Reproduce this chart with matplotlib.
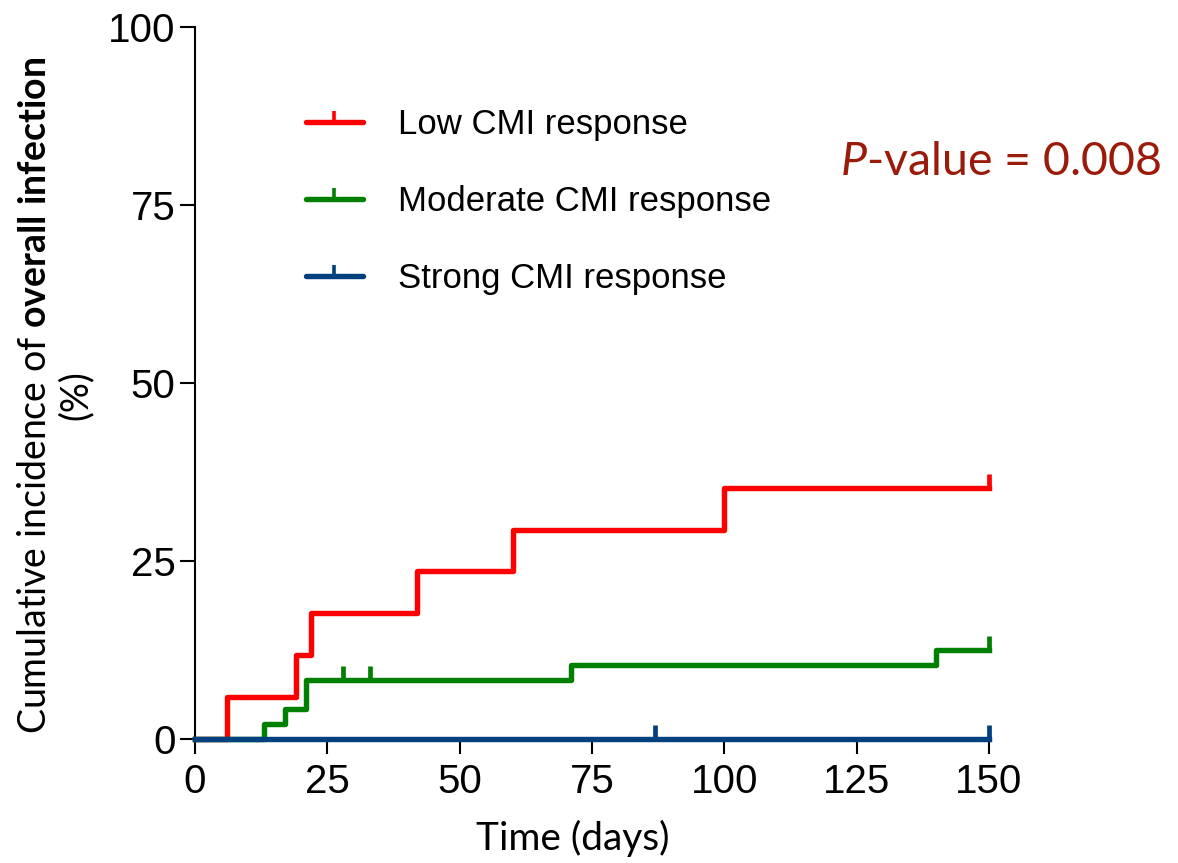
import matplotlib
matplotlib.use("Agg")
import matplotlib.pyplot as plt
from matplotlib.lines import Line2D
from matplotlib.markers import TICKUP

# cumulative incidence (%) step curves, one per CMI group
low_t = [0, 6, 19, 22, 42, 60, 100, 150]
low_y = [0, 5.88, 11.76, 17.65, 23.53, 29.41, 35.29, 35.29]
low_cens_t = [150]
low_cens_y = [35.29]

mod_t = [0, 13, 17, 21, 71, 140, 150]
mod_y = [0, 2.08, 4.17, 8.33, 10.42, 12.5, 12.5]
mod_cens_t = [28, 33, 150]
mod_cens_y = [8.33, 8.33, 12.5]

strong_t = [0, 150]
strong_y = [0, 0]
strong_cens_t = [87, 150]
strong_cens_y = [0, 0]

labels = ["Low CMI response", "Moderate CMI response", "Strong CMI response"]
colors = ["#ff0000", "#008000", "#00407f"]

x_ticks = [0, 25, 50, 75, 100, 125, 150]
y_ticks = [0, 25, 50, 75, 100]

narrow = ["Liberation Sans Narrow", "Liberation Sans", "DejaVu Sans"]
plt.rcParams["mathtext.fontset"] = "custom"
plt.rcParams["mathtext.rm"] = "Lato"
plt.rcParams["mathtext.bf"] = "Lato:bold"
plt.rcParams["mathtext.it"] = "Lato:italic"

fig = plt.figure(figsize=(11.78, 8.63), dpi=100)
ax = fig.add_axes([0.1655, 0.1437, 0.674, 0.825])

series = [
    (low_t, low_y, low_cens_t, low_cens_y),
    (mod_t, mod_y, mod_cens_t, mod_cens_y),
    (strong_t, strong_y, strong_cens_t, strong_cens_y),
]
handles = []
for (t, y, ct, cy), lab, col in zip(series, labels, colors):
    ax.plot(t, y, drawstyle="steps-post", color=col, lw=3.9,
            solid_joinstyle="round", clip_on=False, zorder=3)
    ax.plot(ct, cy, ls="none", marker=TICKUP, ms=10, mew=3.4,
            color=col, clip_on=False, zorder=3)
    handles.append(Line2D([], [], color=col, lw=3.9, marker=TICKUP,
                          ms=8, mew=2.6, solid_capstyle="round"))

ax.set_xlim(0, 150)
ax.set_ylim(0, 100)
ax.set_xticks(x_ticks)
ax.set_yticks(y_ticks)
for s in ["top", "right"]:
    ax.spines[s].set_visible(False)
for s in ["left", "bottom"]:
    ax.spines[s].set_linewidth(1.5)
ax.tick_params(axis="both", length=11, width=1.5, labelsize=29)
ax.tick_params(axis="y", pad=3)
ax.tick_params(axis="x", pad=6)
for lbl in ax.get_xticklabels() + ax.get_yticklabels():
    lbl.set_family(narrow)

leg = ax.legend(handles, labels, loc="upper left",
                bbox_to_anchor=(0.1, 0.93), frameon=False,
                handlelength=1.65, handletextpad=1.0, labelspacing=1.27,
                numpoints=1, prop={"family": narrow, "size": 25})

ax.text(0.812, 0.81, r"$P$-value = 0.008", transform=ax.transAxes,
        ha="left", va="center", fontsize=33.5, color="#9b1b0a",
        family="Lato")

ax.set_xlabel("Time (days)", fontsize=28, family="Lato")
ax.xaxis.set_label_coords(0.476, -0.113)

fig.text(55.5 / 1178, 1 - 395 / 863,
         "Cumulative incidence of $\\bf{overall\\ infection}$\n(%)",
         rotation=90, ha="center", va="center", multialignment="center",
         fontsize=27, family="Lato", linespacing=1.15)

fig.savefig("out.png", dpi=100)
